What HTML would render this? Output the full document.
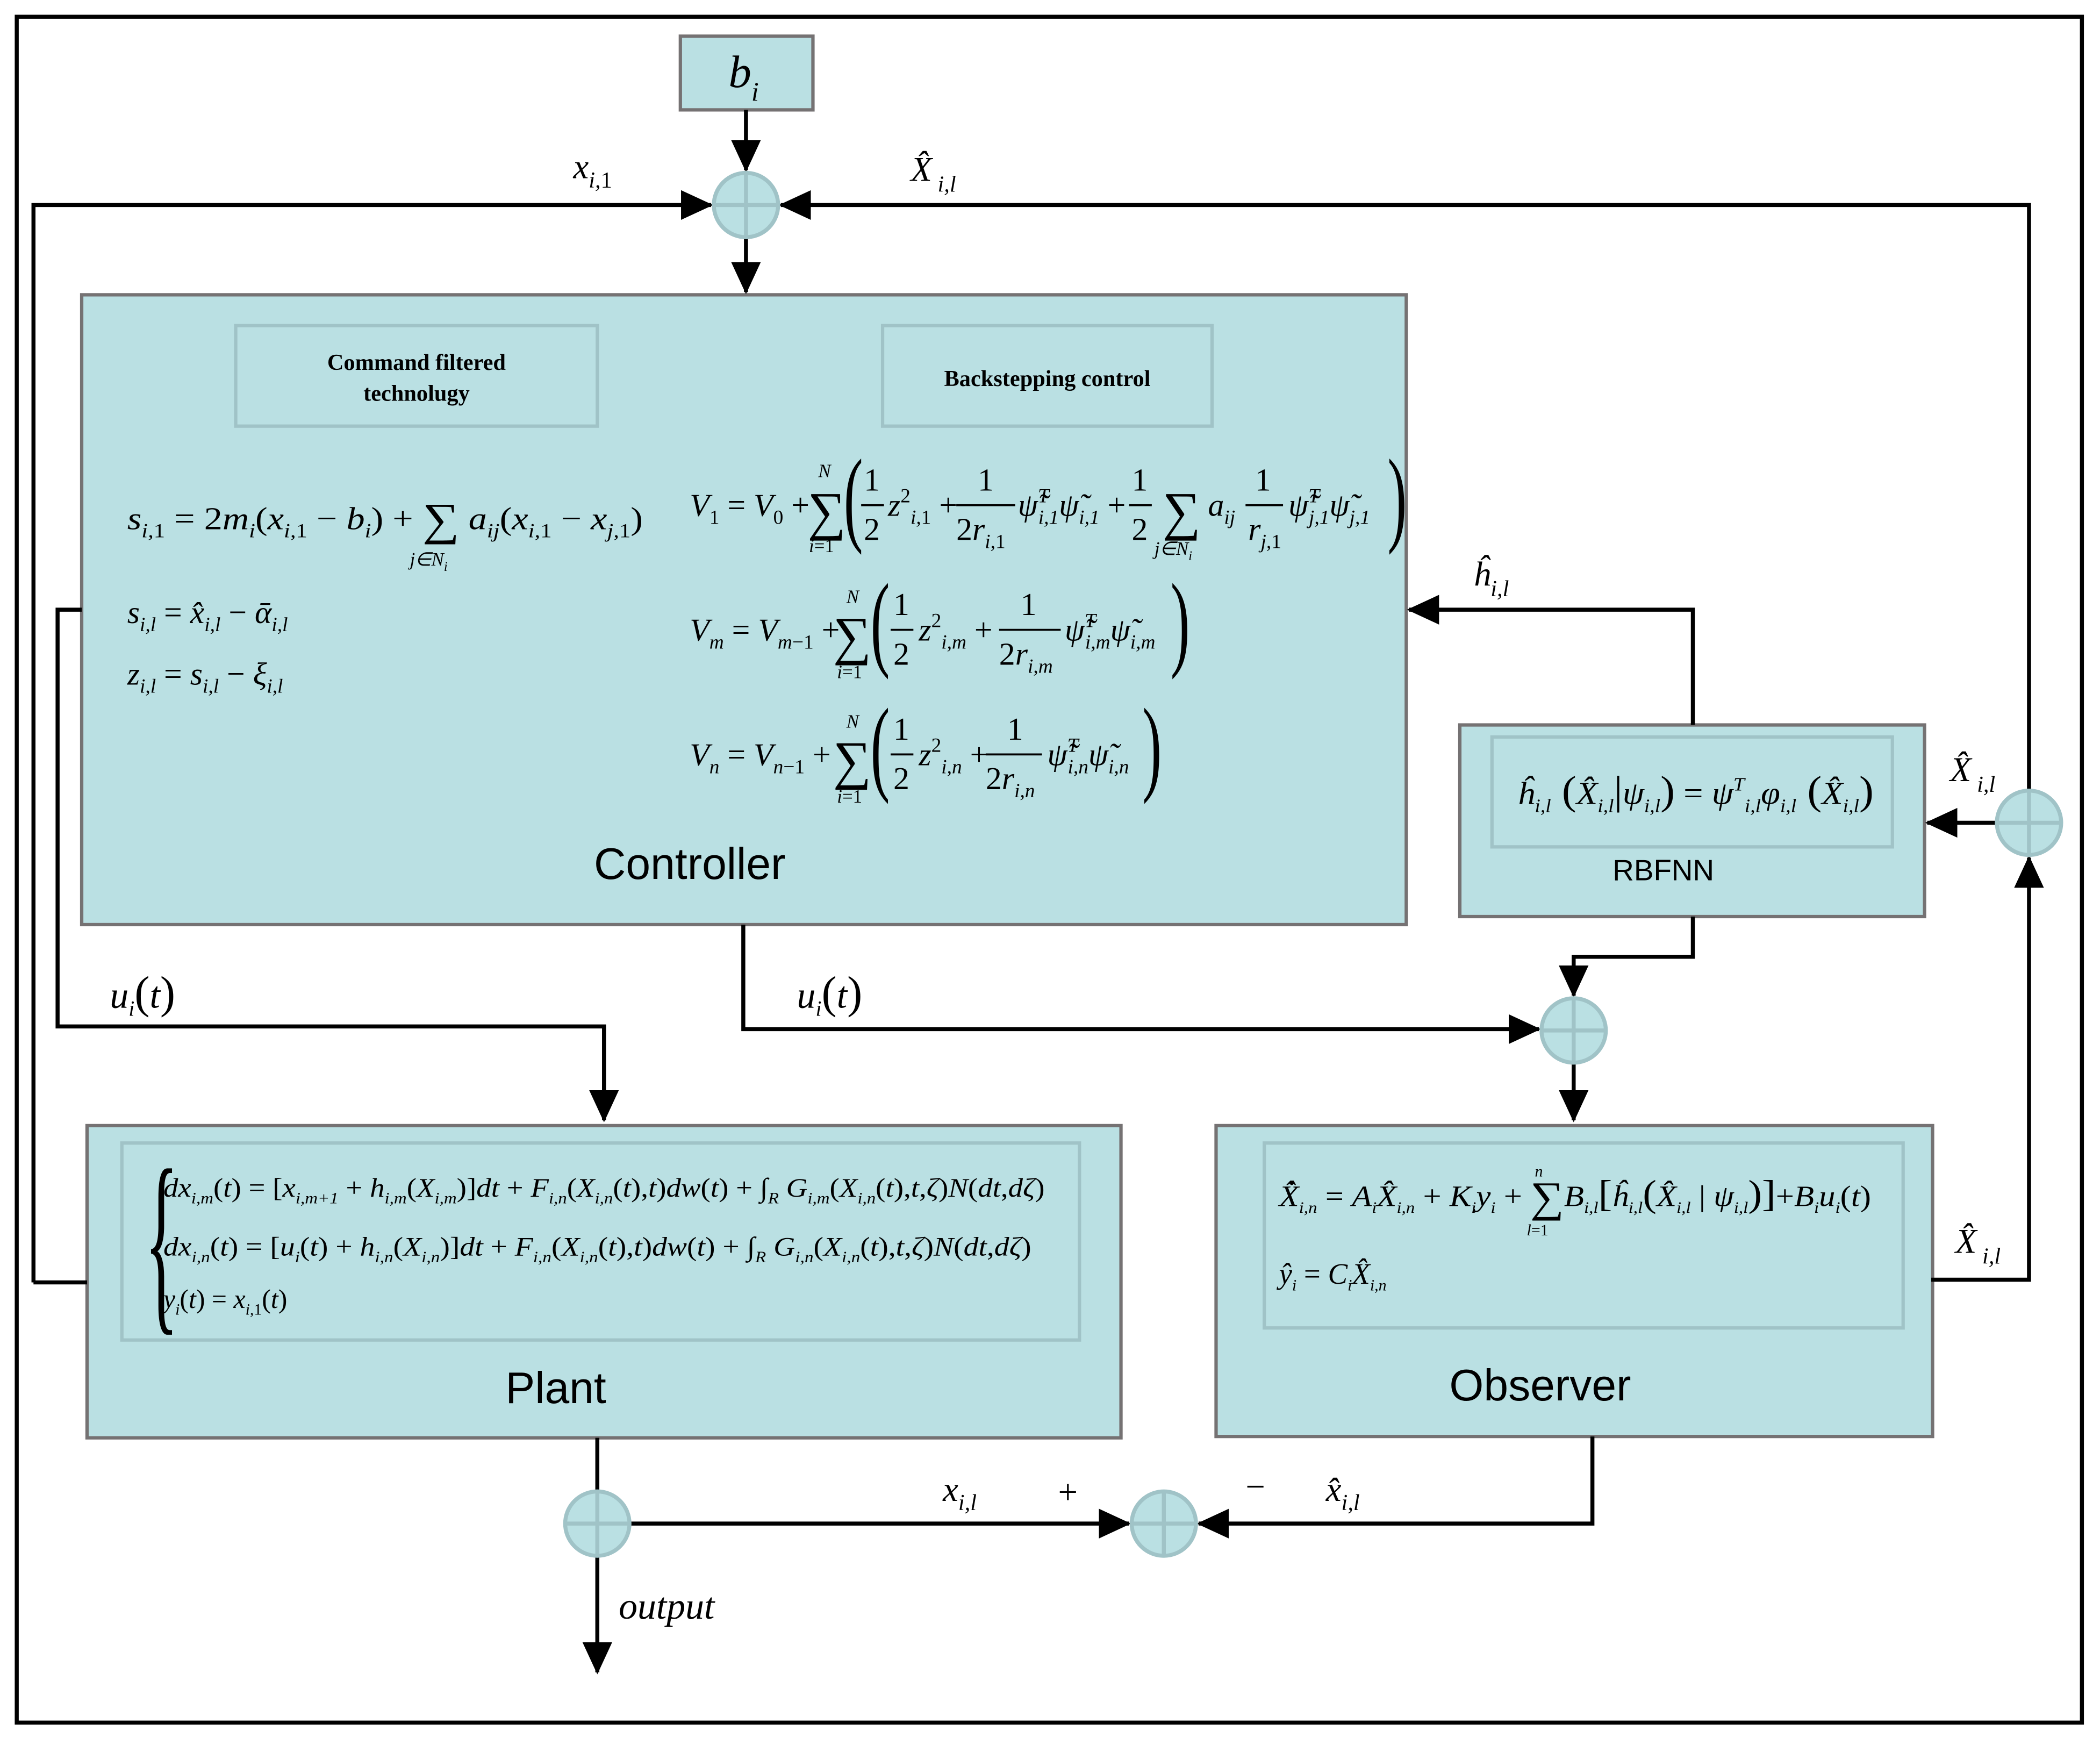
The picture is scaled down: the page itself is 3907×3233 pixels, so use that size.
<!DOCTYPE html>
<html><head><meta charset="utf-8"><style>
html,body{margin:0;padding:0;background:#fff;}
svg{display:block;}
text{font-family:"Liberation Serif",serif;font-style:italic;fill:#000;}
.s{font-family:"Liberation Sans",sans-serif;font-style:normal;}
.b{font-family:"Liberation Serif",serif;font-style:normal;font-weight:bold;}
.n{font-style:normal;}
</style></head><body>
<svg width="3907" height="3233" viewBox="0 0 1568 1297" preserveAspectRatio="none" xmlns="http://www.w3.org/2000/svg">
<defs>
<marker id="a" markerWidth="8" markerHeight="8" refX="7.5" refY="4" orient="auto" markerUnits="strokeWidth"><path d="M0,0.3 L8,4 L0,7.7 Z" fill="#000"/></marker>
</defs>
<rect x="0" y="0" width="1568" height="1297" fill="#fff"/>
<rect x="12.5" y="12.5" width="1542" height="1273" fill="none" stroke="#000" stroke-width="3"/>

<!-- boxes -->
<g fill="#bae0e3" stroke="#757273" stroke-width="2.5">
<rect x="508" y="27" width="99" height="55"/>
<rect x="61" y="220" width="989" height="470"/>
<rect x="1090" y="541" width="347" height="143"/>
<rect x="65" y="840" width="772" height="233"/>
<rect x="908" y="840" width="535" height="232"/>
</g>
<g fill="none" stroke="#a0c3c7" stroke-width="2.5">
<rect x="176" y="243" width="270" height="75"/>
<rect x="659" y="243" width="246" height="75"/>
<rect x="1114" y="550" width="299" height="82"/>
<rect x="91" y="853" width="715" height="147"/>
<rect x="944" y="853" width="477" height="138"/>
</g>

<!-- connectors -->
<g fill="none" stroke="#000" stroke-width="3">
<path d="M557,82 L557,127" marker-end="url(#a)"/>
<path d="M25,957 L25,153 L531,153" marker-end="url(#a)"/>
<path d="M1515,590 L1515,153 L583,153" marker-end="url(#a)"/>
<path d="M557,177 L557,218" marker-end="url(#a)"/>
<path d="M1491,614 L1439,614" marker-end="url(#a)"/>
<path d="M1442,955 L1515,955 L1515,640" marker-end="url(#a)"/>
<path d="M25,957 L65,957"/>
<path d="M1264,541 L1264,455 L1052,455" marker-end="url(#a)"/>
<path d="M1264,684 L1264,714 L1175,714 L1175,743" marker-end="url(#a)"/>
<path d="M555,690 L555,768 L1149,768" marker-end="url(#a)"/>
<path d="M1175,793 L1175,836" marker-end="url(#a)"/>
<path d="M61,455 L43,455 L43,766 L451,766 L451,836" marker-end="url(#a)"/>
<path d="M446,1073 L446,1113"/>
<path d="M446,1161 L446,1248" marker-end="url(#a)"/>
<path d="M470,1137 L843,1137" marker-end="url(#a)"/>
<path d="M1189,1072 L1189,1137 L895,1137" marker-end="url(#a)"/>
</g>

<!-- summing junctions -->
<g fill="#bae0e3" stroke="#a0c3c7" stroke-width="3">
<ellipse cx="557" cy="153" rx="24" ry="24"/><path d="M533,153H581M557,129V177"/>
<ellipse cx="1515" cy="614" rx="24" ry="24"/><path d="M1491,614H1539M1515,590V638"/>
<ellipse cx="1175" cy="769" rx="24" ry="24"/><path d="M1151,769H1199M1175,745V793"/>
<ellipse cx="446" cy="1137" rx="24" ry="24"/><path d="M422,1137H470M446,1113V1161"/>
<ellipse cx="869" cy="1137" rx="24" ry="24"/><path d="M845,1137H893M869,1113V1161"/>
</g>

<!-- labels -->
<text x="544" y="65" font-size="34">b<tspan font-size="20" dy="10">i</tspan></text>
<text x="428" y="133" font-size="26">x<tspan font-size="17" dy="7">i,</tspan><tspan class="n" font-size="17">1</tspan></text>
<text x="680" y="135" font-size="26">X̂<tspan font-size="17" dy="8"> i,l</tspan></text>
<text x="1100" y="437" font-size="26">ĥ<tspan font-size="17" dy="8">i,l</tspan></text>
<text x="1456" y="583" font-size="26">X̂<tspan font-size="17" dy="8"> i,l</tspan></text>
<text x="1460" y="935" font-size="26">X̂<tspan font-size="17" dy="8"> i,l</tspan></text>
<text x="82" y="752" font-size="28">u<tspan font-size="16" dy="6">i</tspan><tspan dy="-6" font-size="34" class="n">(</tspan>t<tspan font-size="34" class="n">)</tspan></text>
<text x="595" y="752" font-size="28">u<tspan font-size="16" dy="6">i</tspan><tspan dy="-6" font-size="34" class="n">(</tspan>t<tspan font-size="34" class="n">)</tspan></text>
<text x="704" y="1120" font-size="26">x<tspan font-size="17" dy="7">i,l</tspan></text>
<text x="790" y="1122" font-size="26" class="n">+</text>
<text x="930" y="1118" font-size="26" class="n">−</text>
<text x="990" y="1120" font-size="26">x̂<tspan font-size="17" dy="7">i,l</tspan></text>
<text x="462" y="1208" font-size="28">output</text>

<text class="b" x="311" y="276" font-size="17" text-anchor="middle">Command filtered</text>
<text class="b" x="311" y="299" font-size="17" text-anchor="middle">technolugy</text>
<text class="b" x="782" y="288" font-size="17" text-anchor="middle">Backstepping control</text>

<text class="s" x="515" y="656" font-size="33" text-anchor="middle">Controller</text>
<text class="s" x="1242" y="657" font-size="22" text-anchor="middle">RBFNN</text>
<text class="s" x="415" y="1047" font-size="33" text-anchor="middle">Plant</text>
<text class="s" x="1150" y="1045" font-size="33" text-anchor="middle">Observer</text>

<!-- controller left equations -->
<text x="95" y="395" font-size="24" textLength="385" lengthAdjust="spacingAndGlyphs">s<tspan font-size="15" dy="6">i,</tspan><tspan class="n" font-size="15">1</tspan><tspan dy="-6" class="n"> = 2</tspan>m<tspan font-size="15" dy="6">i</tspan><tspan dy="-6" class="n">(</tspan>x<tspan font-size="15" dy="6">i,</tspan><tspan class="n" font-size="15">1</tspan><tspan dy="-6" class="n"> − </tspan>b<tspan font-size="15" dy="6">i</tspan><tspan dy="-6" class="n">) +  </tspan><tspan class="n" font-size="34" dy="4">∑</tspan><tspan dy="-4"> a</tspan><tspan font-size="15" dy="6">ij</tspan><tspan dy="-6" class="n">(</tspan>x<tspan font-size="15" dy="6">i,</tspan><tspan class="n" font-size="15">1</tspan><tspan dy="-6" class="n"> − </tspan>x<tspan font-size="15" dy="6">j,</tspan><tspan class="n" font-size="15">1</tspan><tspan dy="-6" class="n">)</tspan></text>
<text x="306" y="422" font-size="14">j∈N<tspan font-size="10" dy="4">i</tspan></text>
<text x="95" y="465" font-size="24">s<tspan font-size="15" dy="6">i,l</tspan><tspan dy="-6" class="n"> = </tspan>x̂<tspan font-size="15" dy="6">i,l</tspan><tspan dy="-6" class="n"> − </tspan>ᾱ<tspan font-size="15" dy="6">i,l</tspan></text>
<text x="95" y="511" font-size="24">z<tspan font-size="15" dy="6">i,l</tspan><tspan dy="-6" class="n"> = </tspan>s<tspan font-size="15" dy="6">i,l</tspan><tspan dy="-6" class="n"> − </tspan>ξ<tspan font-size="15" dy="6">i,l</tspan></text>

<!-- V1 -->
<g font-size="24">
<text x="515" y="385">V<tspan class="n" font-size="15" dy="6">1</tspan><tspan class="n" dy="-6"> = </tspan>V<tspan class="n" font-size="15" dy="6">0</tspan><tspan class="n" dy="-6"> +</tspan></text>
<text x="603" y="395" class="n" font-size="40">∑</text>
<text x="611" y="356" font-size="14">N</text><text x="604" y="412" font-size="14">i<tspan class="n">=1</tspan></text>
<text x="630" y="396" class="n" font-size="72" transform="translate(630,385) scale(0.6,1.1) translate(-630,-385)">(</text>
<text x="645" y="366" class="n">1</text><line x1="643" y1="377" x2="660" y2="377" stroke="#000" stroke-width="1.5"/><text x="645" y="403" class="n">2</text>
<text x="663" y="385">z<tspan font-size="15" dy="-10" class="n">2</tspan><tspan font-size="15" dy="16">i,</tspan><tspan font-size="15" class="n">1</tspan><tspan dy="-6" class="n"> +</tspan></text>
<text x="730" y="366" class="n">1</text><line x1="714" y1="377" x2="758" y2="377" stroke="#000" stroke-width="1.5"/><text x="714" y="403" class="n">2<tspan font-style="italic">r</tspan><tspan font-size="15" dy="6" font-style="italic">i,</tspan><tspan font-size="15">1</tspan></text>
<text x="760" y="385">ψ̃<tspan font-size="15" dy="-10">T</tspan><tspan font-size="15" dx="-8" dy="16">i,1</tspan><tspan dy="-6">ψ̃</tspan><tspan font-size="15" dy="6">i,1</tspan><tspan dy="-6" class="n"> +</tspan></text>
<text x="845" y="366" class="n">1</text><line x1="843" y1="377" x2="860" y2="377" stroke="#000" stroke-width="1.5"/><text x="845" y="403" class="n">2</text>
<text x="868" y="395" class="n" font-size="40">∑</text>
<text x="862" y="414" font-size="14">j∈N<tspan font-size="10" dy="4">i</tspan></text>
<text x="902" y="385">a<tspan font-size="15" dy="6">ij</tspan></text>
<text x="937" y="366" class="n">1</text><line x1="930" y1="377" x2="958" y2="377" stroke="#000" stroke-width="1.5"/><text x="932" y="403">r<tspan font-size="15" dy="6">j,</tspan><tspan font-size="15" class="n">1</tspan></text>
<text x="962" y="385">ψ̃<tspan font-size="15" dy="-10">T</tspan><tspan font-size="15" dx="-8" dy="16">j,1</tspan><tspan dy="-6">ψ̃</tspan><tspan font-size="15" dy="6">j,1</tspan></text>
<text x="1036" y="396" class="n" font-size="72" transform="translate(1036,385) scale(0.6,1.1) translate(-1036,-385)">)</text>
</g>
<!-- Vm -->
<g font-size="24">
<text x="515" y="478">V<tspan font-size="15" dy="6">m</tspan><tspan class="n" dy="-6"> = </tspan>V<tspan font-size="15" dy="6">m</tspan><tspan class="n" font-size="15">−1</tspan><tspan class="n" dy="-6"> +</tspan></text>
<text x="622" y="488" class="n" font-size="40">∑</text>
<text x="632" y="450" font-size="14">N</text><text x="625" y="506" font-size="14">i<tspan class="n">=1</tspan></text>
<text x="650" y="489" class="n" font-size="72" transform="translate(650,478) scale(0.6,1.1) translate(-650,-478)">(</text>
<text x="667" y="459" class="n">1</text><line x1="665" y1="470" x2="682" y2="470" stroke="#000" stroke-width="1.5"/><text x="667" y="496" class="n">2</text>
<text x="686" y="478">z<tspan font-size="15" dy="-10" class="n">2</tspan><tspan font-size="15" dy="16">i,m</tspan><tspan dy="-6" class="n"> +</tspan></text>
<text x="762" y="459" class="n">1</text><line x1="746" y1="470" x2="792" y2="470" stroke="#000" stroke-width="1.5"/><text x="746" y="496" class="n">2<tspan font-style="italic">r</tspan><tspan font-size="15" dy="6" font-style="italic">i,m</tspan></text>
<text x="795" y="478">ψ̃<tspan font-size="15" dy="-10">T</tspan><tspan font-size="15" dx="-8" dy="16">i,m</tspan><tspan dy="-6">ψ̃</tspan><tspan font-size="15" dy="6">i,m</tspan></text>
<text x="874" y="489" class="n" font-size="72" transform="translate(874,478) scale(0.6,1.1) translate(-874,-478)">)</text>
</g>
<!-- Vn -->
<g font-size="24">
<text x="515" y="571">V<tspan font-size="15" dy="6">n</tspan><tspan class="n" dy="-6"> = </tspan>V<tspan font-size="15" dy="6">n</tspan><tspan class="n" font-size="15">−1</tspan><tspan class="n" dy="-6"> +</tspan></text>
<text x="622" y="581" class="n" font-size="40">∑</text>
<text x="632" y="543" font-size="14">N</text><text x="625" y="599" font-size="14">i<tspan class="n">=1</tspan></text>
<text x="650" y="582" class="n" font-size="72" transform="translate(650,571) scale(0.6,1.1) translate(-650,-571)">(</text>
<text x="667" y="552" class="n">1</text><line x1="665" y1="563" x2="682" y2="563" stroke="#000" stroke-width="1.5"/><text x="667" y="589" class="n">2</text>
<text x="686" y="571">z<tspan font-size="15" dy="-10" class="n">2</tspan><tspan font-size="15" dy="16">i,n</tspan><tspan dy="-6" class="n"> +</tspan></text>
<text x="752" y="552" class="n">1</text><line x1="736" y1="563" x2="778" y2="563" stroke="#000" stroke-width="1.5"/><text x="736" y="589" class="n">2<tspan font-style="italic">r</tspan><tspan font-size="15" dy="6" font-style="italic">i,n</tspan></text>
<text x="782" y="571">ψ̃<tspan font-size="15" dy="-10">T</tspan><tspan font-size="15" dx="-8" dy="16">i,n</tspan><tspan dy="-6">ψ̃</tspan><tspan font-size="15" dy="6">i,n</tspan></text>
<text x="853" y="582" class="n" font-size="72" transform="translate(853,571) scale(0.6,1.1) translate(-853,-571)">)</text>
</g>

<!-- RBFNN equation -->
<text x="1133" y="600" font-size="24" textLength="266" lengthAdjust="spacingAndGlyphs">ĥ<tspan font-size="14" dy="6">i,l</tspan><tspan class="n" dy="-6" font-size="30"> (</tspan>X̂<tspan font-size="14" dy="6">i,l</tspan><tspan class="n" dy="-6" font-size="30">|</tspan>ψ<tspan font-size="14" dy="6">i,l</tspan><tspan class="n" dy="-6" font-size="30">)</tspan><tspan class="n"> = </tspan>ψ<tspan font-size="14" dy="-10">T</tspan><tspan font-size="14" dy="16">i,l</tspan><tspan dy="-6">φ</tspan><tspan font-size="14" dy="6">i,l</tspan><tspan class="n" dy="-6" font-size="30"> (</tspan>X̂<tspan font-size="14" dy="6">i,l</tspan><tspan class="n" dy="-6" font-size="30">)</tspan></text>

<!-- Plant equations -->
<text x="108" y="976" class="n" font-size="150" transform="translate(108,927) scale(0.35,1) translate(-108,-927)">{</text>
<text x="122" y="893" font-size="20" textLength="658" lengthAdjust="spacingAndGlyphs">dx<tspan font-size="12" dy="5">i,m</tspan><tspan dy="-5" class="n">(</tspan>t<tspan class="n">) = [</tspan>x<tspan font-size="12" dy="5">i,m+1</tspan><tspan dy="-5" class="n"> + </tspan>h<tspan font-size="12" dy="5">i,m</tspan><tspan dy="-5" class="n">(</tspan>X<tspan font-size="12" dy="5">i,m</tspan><tspan dy="-5" class="n">)]</tspan>dt<tspan class="n"> + </tspan>F<tspan font-size="12" dy="5">i,n</tspan><tspan dy="-5" class="n">(</tspan>X<tspan font-size="12" dy="5">i,n</tspan><tspan dy="-5" class="n">(</tspan>t<tspan class="n">),</tspan>t<tspan class="n">)</tspan>dw<tspan class="n">(</tspan>t<tspan class="n">) + ∫</tspan><tspan font-size="12" dy="5">R</tspan><tspan dy="-5"> G</tspan><tspan font-size="12" dy="5">i,m</tspan><tspan dy="-5" class="n">(</tspan>X<tspan font-size="12" dy="5">i,n</tspan><tspan dy="-5" class="n">(</tspan>t<tspan class="n">),</tspan>t<tspan class="n">,</tspan>ζ<tspan class="n">)</tspan>N<tspan class="n">(</tspan>dt<tspan class="n">,</tspan>dζ<tspan class="n">)</tspan></text>
<text x="122" y="937" font-size="20" textLength="648" lengthAdjust="spacingAndGlyphs">dx<tspan font-size="12" dy="5">i,n</tspan><tspan dy="-5" class="n">(</tspan>t<tspan class="n">) = [</tspan>u<tspan font-size="12" dy="5">i</tspan><tspan dy="-5" class="n">(</tspan>t<tspan class="n">) + </tspan>h<tspan font-size="12" dy="5">i,n</tspan><tspan dy="-5" class="n">(</tspan>X<tspan font-size="12" dy="5">i,n</tspan><tspan dy="-5" class="n">)]</tspan>dt<tspan class="n"> + </tspan>F<tspan font-size="12" dy="5">i,n</tspan><tspan dy="-5" class="n">(</tspan>X<tspan font-size="12" dy="5">i,n</tspan><tspan dy="-5" class="n">(</tspan>t<tspan class="n">),</tspan>t<tspan class="n">)</tspan>dw<tspan class="n">(</tspan>t<tspan class="n">) + ∫</tspan><tspan font-size="12" dy="5">R</tspan><tspan dy="-5"> G</tspan><tspan font-size="12" dy="5">i,n</tspan><tspan dy="-5" class="n">(</tspan>X<tspan font-size="12" dy="5">i,n</tspan><tspan dy="-5" class="n">(</tspan>t<tspan class="n">),</tspan>t<tspan class="n">,</tspan>ζ<tspan class="n">)</tspan>N<tspan class="n">(</tspan>dt<tspan class="n">,</tspan>dζ<tspan class="n">)</tspan></text>
<text x="122" y="976" font-size="20">y<tspan font-size="12" dy="5">i</tspan><tspan dy="-5" class="n">(</tspan>t<tspan class="n">) = </tspan>x<tspan font-size="12" dy="5">i,</tspan><tspan font-size="12" class="n">1</tspan><tspan dy="-5" class="n">(</tspan>t<tspan class="n">)</tspan></text>

<!-- Observer equations -->
<text x="955" y="900" font-size="22" textLength="442" lengthAdjust="spacingAndGlyphs">X̂̇<tspan font-size="12" dy="5">i,n</tspan><tspan dy="-5" class="n"> = </tspan>A<tspan font-size="12" dy="5">i</tspan><tspan dy="-5">X̂</tspan><tspan font-size="12" dy="5">i,n</tspan><tspan dy="-5" class="n"> + </tspan>K<tspan font-size="12" dy="5">i</tspan><tspan dy="-5">y</tspan><tspan font-size="12" dy="5">i</tspan><tspan dy="-5" class="n"> + </tspan><tspan class="n" font-size="32" dy="4">∑</tspan><tspan dy="-4">B</tspan><tspan font-size="12" dy="5">i,l</tspan><tspan dy="-5" class="n" font-size="28">[</tspan>ĥ<tspan font-size="12" dy="5">i,l</tspan><tspan dy="-5" class="n" font-size="28">(</tspan>X̂<tspan font-size="12" dy="5">i,l</tspan><tspan dy="-5" class="n"> | </tspan>ψ<tspan font-size="12" dy="5">i,l</tspan><tspan dy="-5" class="n" font-size="28">)]</tspan><tspan class="n">+</tspan>B<tspan font-size="12" dy="5">i</tspan><tspan dy="-5">u</tspan><tspan font-size="12" dy="5">i</tspan><tspan dy="-5" class="n">(</tspan>t<tspan class="n">)</tspan></text>
<text x="1146" y="878" font-size="12">n</text>
<text x="1140" y="922" font-size="12">l<tspan class="n">=1</tspan></text>
<text x="955" y="958" font-size="22">ŷ<tspan font-size="12" dy="5">i</tspan><tspan dy="-5" class="n"> = </tspan>C<tspan font-size="12" dy="5">i</tspan><tspan dy="-5">X̂</tspan><tspan font-size="12" dy="5">i,n</tspan></text>
</svg>
</body></html>
